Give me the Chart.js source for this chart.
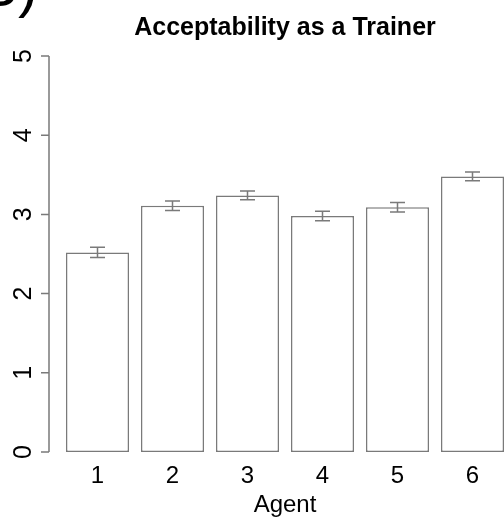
<!DOCTYPE html>
<html>
<head>
<meta charset="utf-8">
<script src="https://cdn.jsdelivr.net/npm/chart.js@4.4.1/dist/chart.umd.min.js"></script>
<style>
  html, body { margin: 0; padding: 0; background: #fff; overflow: hidden; }
  #wrap { width: 512px; height: 517px; }
</style>
</head>
<body>
<div id="wrap"><canvas id="chart"></canvas></div>
<script>
// values
const agents = ['1', '2', '3', '4', '5', '6'];
const means = [2.52, 3.11, 3.24, 2.98, 3.09, 3.48];
const errors = [0.065, 0.06, 0.055, 0.06, 0.06, 0.055];
const yTicks = [0, 1, 2, 3, 4, 5];

const FONT = "'Liberation Sans', Arial, sans-serif";
const GREY = '#7a7a7a';

// R-style detached y axis with rotated labels
const rAxis = {
    id: 'rAxis',
    afterDraw(chart) {
        const { ctx, chartArea, scales: { y } } = chart;
        const x0 = chartArea.left - 11;
        ctx.save();
        ctx.strokeStyle = GREY;
        ctx.lineWidth = 1.5;
        ctx.beginPath();
        ctx.moveTo(x0, y.getPixelForValue(yTicks[0]));
        ctx.lineTo(x0, y.getPixelForValue(yTicks[yTicks.length - 1]));
        yTicks.forEach(t => {
            const py = y.getPixelForValue(t);
            ctx.moveTo(x0, py);
            ctx.lineTo(x0 - 8, py);
        });
        ctx.stroke();

        ctx.fillStyle = '#000';
        ctx.font = '25px ' + FONT;
        ctx.textAlign = 'center';
        ctx.textBaseline = 'middle';
        yTicks.forEach(t => {
            ctx.save();
            ctx.translate(22, y.getPixelForValue(t));
            ctx.rotate(-Math.PI / 2);
            ctx.fillText(String(t), 0, 2);
            ctx.restore();
        });

        // panel letter, cut off at the top like the original
        ctx.textAlign = 'left';
        ctx.textBaseline = 'alphabetic';
        ctx.font = '60px ' + FONT;
        ctx.fillText('B)', -22, 6);
        ctx.restore();
    }
};

// error bars on top of the bars
const errorBars = {
    id: 'errorBars',
    afterDatasetsDraw(chart) {
        const { ctx, scales: { y } } = chart;
        const bars = chart.getDatasetMeta(0).data;
        ctx.save();
        ctx.strokeStyle = GREY;
        ctx.lineWidth = 1.5;
        bars.forEach((bar, i) => {
            const top = y.getPixelForValue(means[i] + errors[i]);
            const bottom = y.getPixelForValue(means[i] - errors[i]);
            ctx.beginPath();
            ctx.moveTo(bar.x, top);
            ctx.lineTo(bar.x, bottom);
            ctx.moveTo(bar.x - 7.5, top);
            ctx.lineTo(bar.x + 7.5, top);
            ctx.moveTo(bar.x - 7.5, bottom);
            ctx.lineTo(bar.x + 7.5, bottom);
            ctx.stroke();
        });
        ctx.restore();
    }
};

new Chart(document.getElementById('chart'), {
    type: 'bar',
    data: {
        labels: agents,
        datasets: [{
            data: means,
            backgroundColor: '#ffffff',
            borderColor: GREY,
            borderWidth: 1.5,
            borderSkipped: false,
            categoryPercentage: 1,
            barPercentage: 0.84
        }]
    },
    options: {
        responsive: true,
        maintainAspectRatio: false,
        animation: false,
        layout: { padding: { left: 60, right: 2, top: 0, bottom: 0 } },
        plugins: {
            legend: { display: false },
            tooltip: { enabled: false },
            title: {
                display: true,
                text: 'Acceptability as a Trainer',
                color: '#000',
                fullSize: false,
                font: { family: FONT, size: 25, weight: 'bold' },
                padding: { top: 13, bottom: 13 }
            }
        },
        scales: {
            y: { display: false, min: 0, max: 5 },
            x: {
                afterFit: (scale) => { scale.height = 65; },
                grid: { display: false, drawTicks: false },
                border: { display: false },
                ticks: { color: '#000', font: { family: FONT, size: 24, lineHeight: 1 }, padding: 12 },
                title: {
                    display: true,
                    text: 'Agent',
                    color: '#000',
                    font: { family: FONT, size: 24, lineHeight: 1 },
                    padding: { top: 0, bottom: 0 }
                }
            }
        }
    },
    plugins: [rAxis, errorBars]
});
</script>
</body>
</html>
